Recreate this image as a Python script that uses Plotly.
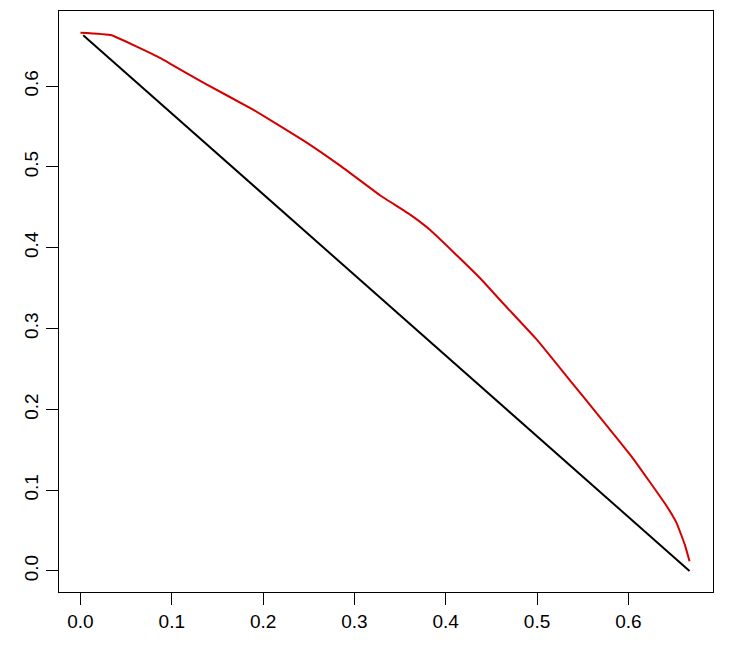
import plotly.graph_objects as go

# black reference line
black_x = [0.003, 0.156, 0.333, 0.500, 0.667]
black_y = [0.663, 0.510, 0.333, 0.167, 0.0]

# red curve
red_x = [0.000, 0.034, 0.087, 0.098, 0.135, 0.189, 0.244, 0.284, 0.328, 0.361,
         0.383, 0.410, 0.438, 0.463, 0.500, 0.536, 0.567, 0.604, 0.641,
         0.653, 0.662, 0.667]
red_y = [0.666, 0.663, 0.635, 0.628, 0.604, 0.571, 0.533, 0.502, 0.465, 0.441,
         0.422, 0.393, 0.362, 0.331, 0.286, 0.236, 0.193, 0.141, 0.082,
         0.059, 0.032, 0.012]

ticks = [0.0, 0.1, 0.2, 0.3, 0.4, 0.5, 0.6]
tick_text = ['0.0', '0.1', '0.2', '0.3', '0.4', '0.5', '0.6']

fig = go.Figure()
fig.add_trace(go.Scatter(x=black_x, y=black_y, mode='lines',
                         line=dict(color='black', width=2)))
fig.add_trace(go.Scatter(x=red_x, y=red_y, mode='lines',
                         line=dict(color='#d40000', width=2, shape='spline', smoothing=0.3)))

axis_style = dict(showgrid=False, zeroline=False, showline=True, mirror=True,
                  linecolor='black', linewidth=1, ticks='outside', ticklen=12,
                  tickcolor='black', tickvals=ticks, ticktext=tick_text,
                  tickfont=dict(family='Liberation Sans, Arial', size=19, color='black'))

fig.update_xaxes(range=[-0.0235, 0.6927], **axis_style)
fig.update_yaxes(range=[-0.026, 0.693], tickangle=-90, **axis_style)

# page body adds an 8px offset, so margins are shifted to compensate
fig.update_layout(width=732, height=648, showlegend=False,
                  margin=dict(l=51, r=27, t=3, b=64),
                  plot_bgcolor='white', paper_bgcolor='white')

fig.write_html("out.html")
